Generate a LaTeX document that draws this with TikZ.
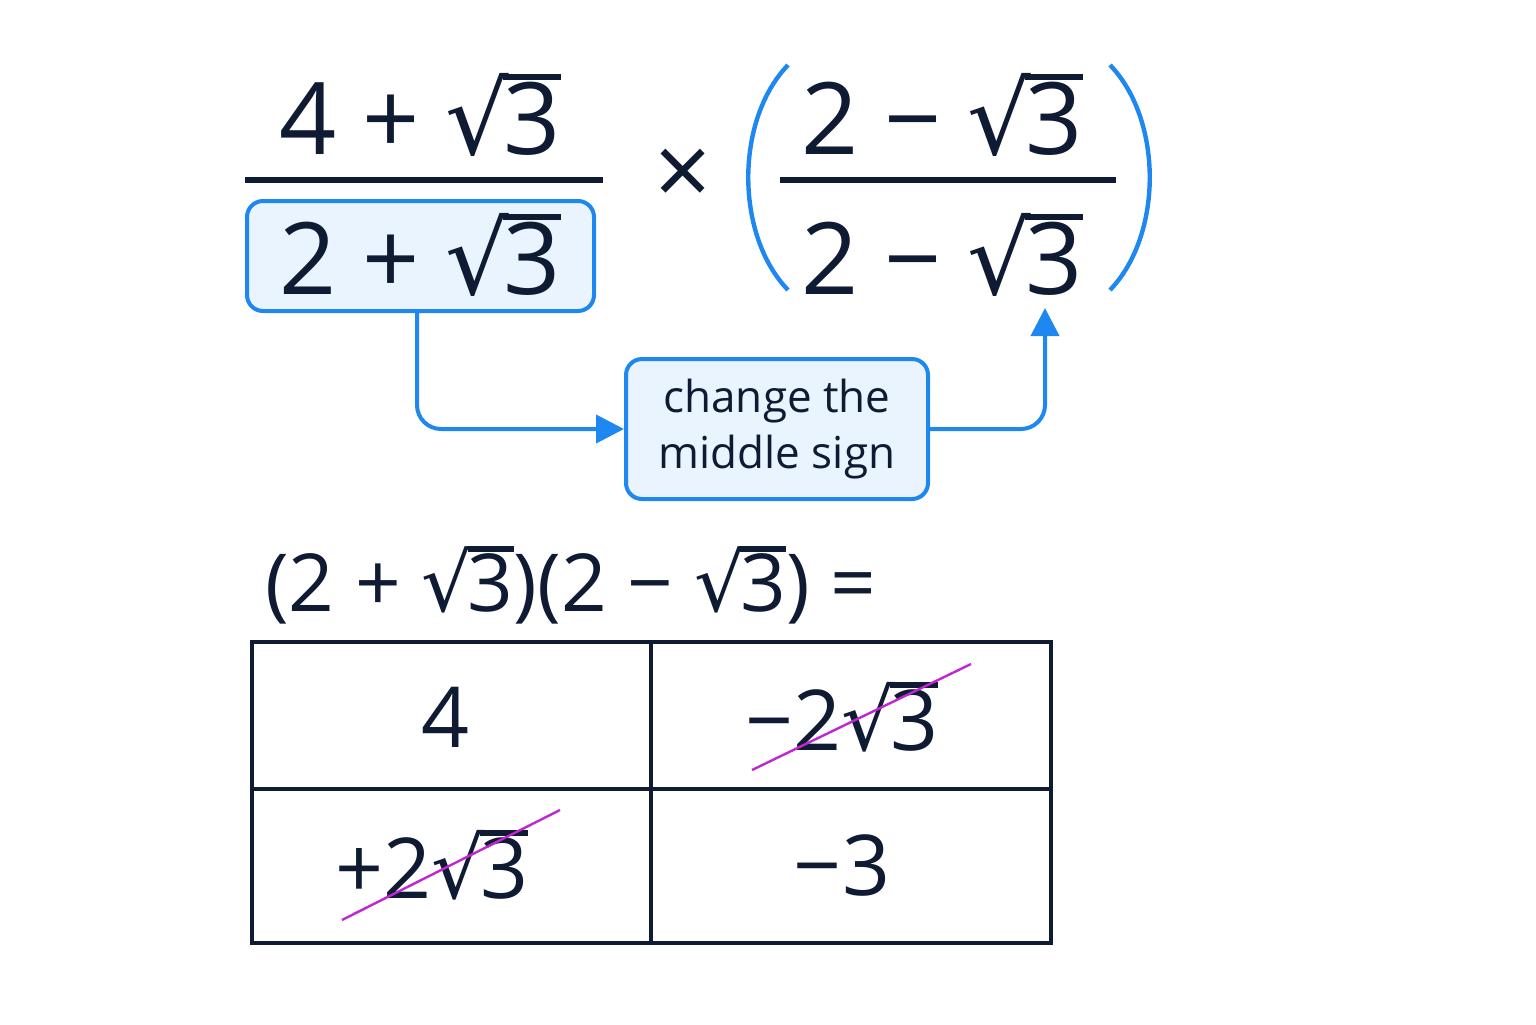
\documentclass[tikz,border=0pt]{standalone}
\usepackage{fontspec}
\setmainfont{Open Sans}
\newfontfamily\dejavu{DejaVu Sans}
\usetikzlibrary{arrows.meta}
\definecolor{ink}{HTML}{0F1A33}
\definecolor{blu}{HTML}{1E88F0}
\definecolor{lbl}{HTML}{EAF4FE}
\definecolor{mag}{HTML}{C026D3}
\newcommand{\rt}[1]{{\dejavu\char"221A}\kern-0.06em\vbox{\hrule height 0.065em\kern0.02em\hbox{#1}}}
\newcommand{\mn}{\char"2212\relax}
\begin{document}
\begin{tikzpicture}[x=0.5pt,y=-0.5pt,
 big/.style={font=\fontsize{50}{58}\selectfont, text=ink},
 mid/.style={font=\fontsize{40}{48}\selectfont, text=ink},
 cell/.style={font=\fontsize{42}{50}\selectfont, text=ink},
 bx/.style={draw=blu, line width=2pt, fill=lbl, rounded corners=8pt},
 arr/.style={draw=blu, line width=2pt, rounded corners=12pt, -{Triangle[length=14pt,width=14pt]}},
 bar/.style={draw=ink, line width=3pt},
 strike/.style={draw=mag, line width=1.2pt}]
\useasboundingbox (0,0) rectangle (1536,1024);
\node[big] (n1) at (420,115) {4 + \rt{3}};
\draw[bar] (245,180) -- (603,180);
\path[bx] (247,201) rectangle (594,311);
\node[big] (d1) at (420,255) {2 + \rt{3}};
\coordinate (d1b) at (417,311);
\node[big] (x) at (683,178) {\char"00D7\relax};
\node[big] (n2) at (942,115) {2 \mn{} \rt{3}};
\draw[bar] (780,180) -- (1116,180);
\node[big] (d2) at (942,255) {2 \mn{} \rt{3}};
\draw[blu, line width=2.2pt] (788,65) .. controls (735,120) and (735,235) .. (788,290);
\draw[blu, line width=2.2pt] (1110,65) .. controls (1163,120) and (1163,235) .. (1110,290);
\node[bx, minimum width=151pt, minimum height=70pt, align=center, font=\fontsize{22}{28}\selectfont, text=ink, inner sep=0pt] (c) at (777,429) {change the\\middle sign};
\coordinate (tgt) at (1045,308);
\draw[arr] (d1b) |- (c.west);
\draw[arr] (c.east) -| (tgt);
\node[mid, anchor=west] (eq) at (258,585) {(2 + \rt{3})(2 \mn{} \rt{3}) =};
\draw[draw=ink, line width=1.6pt] (252,642) rectangle (1051,943);
\draw[draw=ink, line width=1.6pt] (651,642) -- (651,943) (252,789) -- (1051,789);
\node[cell] (a) at (446,717) {4};
\node[cell] (b) at (842,717) {\mn{}2\rt{3}};
\node[cell] (cc) at (432,865) {+2\rt{3}};
\node[cell] (d) at (842,865) {\mn{}3};
\draw[strike] (752,770) -- (971,664);
\draw[strike] (342,920) -- (560,810);
\end{tikzpicture}
\end{document}
